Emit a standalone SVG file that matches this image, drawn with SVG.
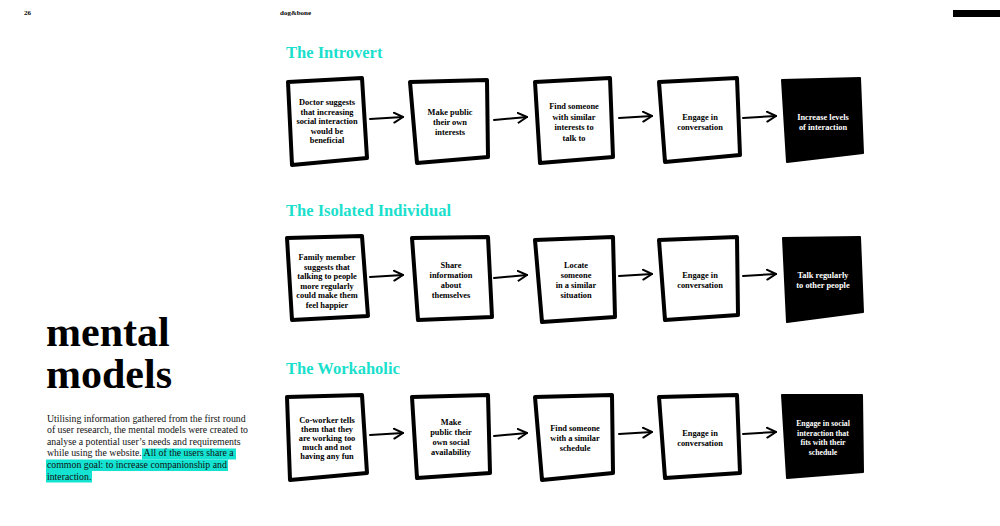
<svg xmlns="http://www.w3.org/2000/svg" width="1000" height="526" viewBox="0 0 1000 526">
<style>
.bx{fill:#fff;stroke:#000;stroke-width:4;stroke-linejoin:round}
.bk{fill:#000;stroke:#000;stroke-width:2;stroke-linejoin:round}
.t{font-family:"Liberation Serif",serif;font-weight:bold;font-size:8.4px;fill:#000;text-anchor:middle}
.w{fill:#fff}
.h{font-family:"Liberation Serif",serif;font-weight:bold;font-size:16.5px;fill:#19e0cc}
.ar{fill:none;stroke:#000;stroke-width:2;stroke-linecap:round;marker-end:url(#chev)}
.p{font-family:"Liberation Serif",serif;font-size:9.8px;fill:#111}
.hl{fill:#14e3d2}
.big{font-family:"Liberation Serif",serif;font-weight:bold;font-size:42px;fill:#000}
.hd{font-family:"Liberation Serif",serif;font-weight:bold;font-size:7px;fill:#000}
</style>
<defs>
<marker id="chev" markerUnits="userSpaceOnUse" markerWidth="14" markerHeight="14" refX="10" refY="6" orient="auto">
<path d="M1,1 L10,6 L1,11" fill="none" stroke="#000" stroke-width="2" stroke-linecap="round" stroke-linejoin="round"/>
</marker>
</defs>
<rect width="1000" height="526" fill="#fff"/>
<g id="header">
<text class="hd" x="24" y="15">26</text>
<text class="hd" x="280" y="15">dog&amp;bone</text>
<rect x="953" y="10" width="47" height="7" fill="#000"/>
</g>
<g id="intro-text">
<text class="big" x="46" y="346">mental</text>
<text class="big" x="46" y="388">models</text>
<rect class="hl" x="142" y="448.5" width="94" height="11"/>
<rect class="hl" x="46" y="459.5" width="182" height="11.5"/>
<rect class="hl" x="46" y="471" width="46" height="11.5"/>
<text class="p" x="47" y="421.5">Utilising information gathered from the first round</text>
<text class="p" x="47" y="433">of user research, the mental models were created to</text>
<text class="p" x="47" y="444.7">analyse a potential user’s needs and requirements</text>
<text class="p" x="47" y="456.4">while using the website. All of the users share a</text>
<text class="p" x="47" y="468.1">common goal: to increase companionship and</text>
<text class="p" x="47" y="479.8">interaction.</text>
</g>
<g id="titles">
<text class="h" x="286" y="58">The Introvert</text>
<text class="h" x="286" y="216">The Isolated Individual</text>
<text class="h" x="286" y="374">The Workaholic</text>
</g>
<g id="connectors">
<path class="ar" d="M370,119 L403,117"/>
<path class="ar" d="M494,120 L527,117"/>
<path class="ar" d="M619,118 L652,116"/>
<path class="ar" d="M743,118 L776,116"/>
<path class="ar" d="M370,277 L403,275"/>
<path class="ar" d="M494,278 L527,275"/>
<path class="ar" d="M619,276 L652,274"/>
<path class="ar" d="M743,276 L776,274"/>
<path class="ar" d="M370,435 L403,433"/>
<path class="ar" d="M494,436 L527,433"/>
<path class="ar" d="M619,434 L652,432"/>
<path class="ar" d="M743,434 L776,432"/>
</g>
<g id="r1n1"><polygon class="bx" points="288,82 362,78 367,158 292,165"/>
<text class="t"><tspan x="327" y="105">Doctor suggests</tspan><tspan x="327" y="114.5">that increasing</tspan><tspan x="327" y="124">social interaction</tspan><tspan x="327" y="133.5">would be</tspan><tspan x="327" y="143">beneficial</tspan></text></g>
<g id="r1n2"><polygon class="bx" points="410,82 487,80 488,157 417,163"/>
<text class="t"><tspan x="450" y="115">Make public</tspan><tspan x="450" y="125">their own</tspan><tspan x="450" y="135">interests</tspan></text></g>
<g id="r1n3"><polygon class="bx" points="535,82 610,78 613,157 540,163"/>
<text class="t"><tspan x="574" y="109">Find someone</tspan><tspan x="574" y="119.5">with similar</tspan><tspan x="574" y="130">interests to</tspan><tspan x="574" y="140.5">talk to</tspan></text></g>
<g id="r1n4"><polygon class="bx" points="659,82 737,78 740,155 665,162"/>
<text class="t"><tspan x="700" y="120">Engage in</tspan><tspan x="700" y="130">conversation</tspan></text></g>
<g id="r1n5"><polygon class="bk" points="782,80 860,78 863,153 787,162"/>
<text class="t w"><tspan x="823" y="120">Increase levels</tspan><tspan x="823" y="130">of interaction</tspan></text></g>
<g id="r2n1"><polygon class="bx" points="287,238 362,236 368,316 292,320"/>
<text class="t"><tspan x="327" y="260">Family member</tspan><tspan x="327" y="269.5">suggests that</tspan><tspan x="327" y="279">talking to people</tspan><tspan x="327" y="288.5">more regularly</tspan><tspan x="327" y="298">could make them</tspan><tspan x="327" y="307.5">feel happier</tspan></text></g>
<g id="r2n2"><polygon class="bx" points="412,238 488,237 492,317 418,320"/>
<text class="t"><tspan x="451" y="268">Share</tspan><tspan x="451" y="278">information</tspan><tspan x="451" y="288">about</tspan><tspan x="451" y="298">themselves</tspan></text></g>
<g id="r2n3"><polygon class="bx" points="535,240 613,237 615,317 542,322"/>
<text class="t"><tspan x="576" y="268">Locate</tspan><tspan x="576" y="278">someone</tspan><tspan x="576" y="288">in a similar</tspan><tspan x="576" y="298">situation</tspan></text></g>
<g id="r2n4"><polygon class="bx" points="659,240 737,237 738,315 665,320"/>
<text class="t"><tspan x="700" y="278">Engage in</tspan><tspan x="700" y="288">conversation</tspan></text></g>
<g id="r2n5"><polygon class="bk" points="783,238 860,237 863,312 787,322"/>
<text class="t w"><tspan x="823" y="278">Talk regularly</tspan><tspan x="823" y="288">to other people</tspan></text></g>
<g id="r3n1"><polygon class="bx" points="287,397 362,395 367,473 290,480"/>
<text class="t"><tspan x="327" y="423">Co-worker tells</tspan><tspan x="327" y="432">them that they</tspan><tspan x="327" y="441">are working too</tspan><tspan x="327" y="450">much and not</tspan><tspan x="327" y="459">having any fun</tspan></text></g>
<g id="r3n2"><polygon class="bx" points="412,397 488,395 490,473 417,478"/>
<text class="t"><tspan x="451" y="425">Make</tspan><tspan x="451" y="435">public their</tspan><tspan x="451" y="445">own social</tspan><tspan x="451" y="455">availability</tspan></text></g>
<g id="r3n3"><polygon class="bx" points="535,397 612,395 613,473 542,480"/>
<text class="t"><tspan x="575" y="431">Find someone</tspan><tspan x="575" y="441">with a similar</tspan><tspan x="575" y="451">schedule</tspan></text></g>
<g id="r3n4"><polygon class="bx" points="659,397 737,395 740,473 665,478"/>
<text class="t"><tspan x="700" y="436">Engage in</tspan><tspan x="700" y="446">conversation</tspan></text></g>
<g id="r3n5"><polygon class="bk" points="782,395 862,395 863,472 787,478"/>
<text class="t w" style="font-size:7.8px"><tspan x="823" y="426">Engage in social</tspan><tspan x="823" y="435.5">interaction that</tspan><tspan x="823" y="445">fits with their</tspan><tspan x="823" y="454.5">schedule</tspan></text></g>
</svg>
